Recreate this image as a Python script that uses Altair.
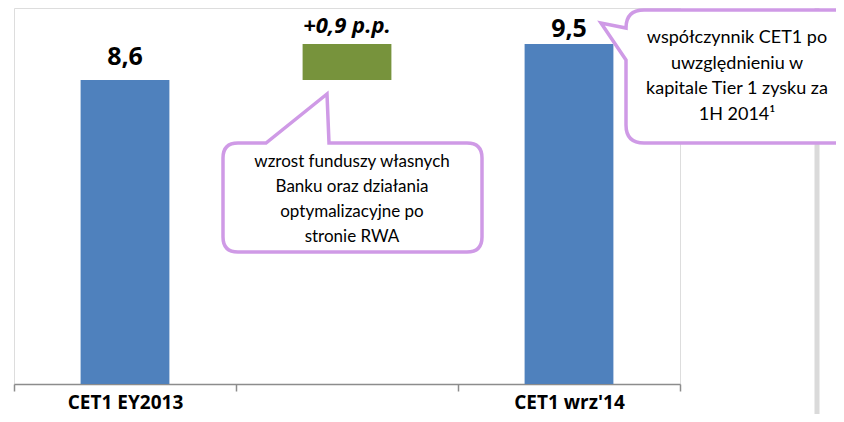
import altair as alt
import pandas as pd

# ---- data ----
categories = ["CET1 EY2013", "mid", "CET1 wrz'14"]
bar_start = [0.0, 8.6, 0.0]
bar_end = [8.6, 9.5, 9.5]
bar_labels = ["8,6", "+0,9 p.p.", "9,5"]
bar_kind = ["total", "delta", "total"]

callout1_lines = ["wzrost funduszy własnych", "Banku  oraz działania",
                  "optymalizacyjne po", "stronie RWA"]
callout2_lines = ["współczynnik CET1 po", "uwzględnieniu w",
                  "kapitale Tier 1 zysku za", "1H 2014¹"]

df = pd.DataFrame({"cat": categories, "start": bar_start, "end": bar_end,
                   "label": bar_labels, "kind": bar_kind})

# ---- layout ----
W, H = 666, 376
PAD_L, PAD_T = 6, 0
TOTAL_W, TOTAL_H = 828, 406
OX, OY = 8 + PAD_L, 8 + PAD_T   # page offset of the plot origin
FONT = "Lato"
BOLD_FONT = "Open Sans"
BLUE, GREEN, PURPLE, GREY = "#4F81BD", "#77933C", "#CF9AE6", "#DADADA"


def px(x):
    return x - OX


def py(y):
    return y - OY


def box_path(x0, y0, x1, y1, r, cx, cy, top_ptr=None, left_ptr=None):
    def p(x, y):
        return f"{x - cx:.1f},{y - cy:.1f}"
    s = []
    if left_ptr:
        tipx, tipy, joy = left_ptr
        s.append(f"M{p(x0, joy)}L{p(tipx, tipy)}L{p(x0, y0 + r)}Q{p(x0, y0)} {p(x0 + r, y0)}")
    else:
        s.append(f"M{p(x0 + r, y0)}")
    if top_ptr:
        a, b, tipx, tipy = top_ptr
        s.append(f"L{p(a, y0)}L{p(tipx, tipy)}L{p(b, y0)}")
    s.append(f"L{p(x1 - r, y0)}Q{p(x1, y0)} {p(x1, y0 + r)}")
    s.append(f"L{p(x1, y1 - r)}Q{p(x1, y1)} {p(x1 - r, y1)}")
    s.append(f"L{p(x0 + r, y1)}Q{p(x0, y1)} {p(x0, y1 - r)}")
    if not left_ptr:
        s.append(f"L{p(x0, y0 + r)}Q{p(x0, y0)} {p(x0 + r, y0)}")
    s.append("Z")
    return "".join(s)


one = pd.DataFrame({"a": [0]})

xenc = alt.X("cat:N", sort=categories,
             scale=alt.Scale(paddingInner=0, paddingOuter=0),
             axis=alt.Axis(title=None, labelAngle=0, tickBand="extent",
                           domainColor="#8C8C8C", domainWidth=1.5,
                           tickColor="#8C8C8C", tickWidth=1.5, tickSize=7,
                           labelFont=BOLD_FONT, labelFontSize=19, labelFontWeight="bold",
                           labelColor="#000000", labelPadding=17, labelBaseline="alphabetic",
                           labelExpr="datum.label == 'mid' ? '' : datum.label"))
yscale = alt.Scale(domain=[1, 10.4], clamp=True)

bars = alt.Chart(df).mark_bar(width=alt.RelativeBandSize(0.4)).encode(
    x=xenc,
    y=alt.Y("start:Q", scale=yscale, axis=None),
    y2="end:Q",
    color=alt.Color("kind:N", scale=alt.Scale(domain=["total", "delta"], range=[BLUE, GREEN]),
                    legend=None),
)


def label_layer(idx, dy, italic=False, size=25):
    m = alt.Chart(df).transform_filter(alt.datum.label == bar_labels[idx]).mark_text(
        font=BOLD_FONT, fontSize=size, fontWeight="bold",
        fontStyle="italic" if italic else "normal",
        baseline="alphabetic", dy=dy, color="#000000")
    return m.encode(x=alt.X("cat:N", sort=categories), y=alt.Y("end:Q", scale=yscale),
                    text="label:N")


lab1 = label_layer(0, -15)
lab2 = label_layer(1, -11, italic=True, size=22)
lab3 = label_layer(2, -7)

# grey frame line on the right
grey1 = alt.Chart(one).mark_rule(color=GREY, strokeWidth=5).encode(
    x=alt.value(px(817)), y=alt.value(py(8)), y2=alt.value(py(430)))

# callout 1
c1 = (352, 197)
path1 = box_path(223, 143, 482, 252, 15, c1[0], c1[1], top_ptr=(266, 329, 327, 94))
call1 = alt.Chart(one).mark_point(shape=path1, size=4, filled=True, fill="white",
                                  stroke=PURPLE, strokeWidth=3.5, opacity=1).encode(
    x=alt.value(px(c1[0])), y=alt.value(py(c1[1])))
text1 = alt.Chart(one).mark_text(text=callout1_lines, font=FONT, fontSize=17, lineHeight=25,
                                 align="center", baseline="middle", color="#000000").encode(
    x=alt.value(px(352)), y=alt.value(py(162)))

# callout 2
c2 = (743, 76)
path2 = box_path(626, 10, 870, 143, 18, c2[0], c2[1], left_ptr=(601, 23, 60))
call2 = alt.Chart(one).mark_point(shape=path2, size=4, filled=True, fill="white",
                                  stroke=PURPLE, strokeWidth=3.5, opacity=1).encode(
    x=alt.value(px(c2[0])), y=alt.value(py(c2[1])))
text2 = alt.Chart(one).mark_text(text=callout2_lines, font=FONT, fontSize=18, lineHeight=25.5,
                                 align="center", baseline="middle", color="#000000").encode(
    x=alt.value(px(737)), y=alt.value(py(38)))

chart = alt.layer(grey1, bars, lab1, lab2, lab3, call1, text1, call2, text2).properties(
    width=W, height=H,
    autosize=alt.AutoSizeParams(type="none"),
    padding={"left": PAD_L, "top": PAD_T, "right": TOTAL_W - PAD_L - W,
             "bottom": TOTAL_H - PAD_T - H},
).configure_view(stroke=None).configure(background="white")

chart.save("out.html", embed_options={"renderer": "svg", "actions": False})
